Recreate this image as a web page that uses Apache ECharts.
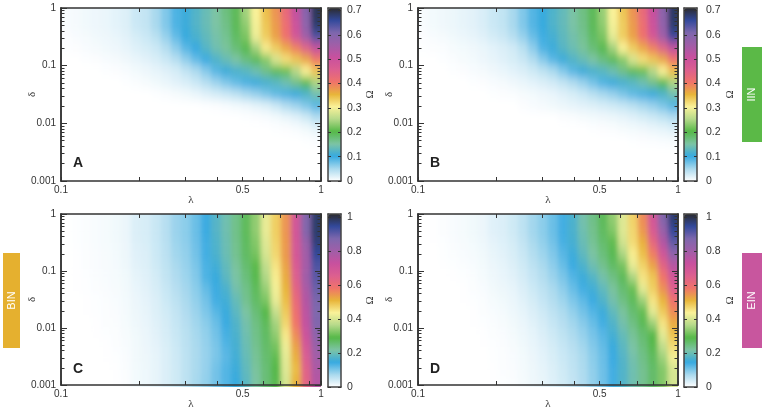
<!DOCTYPE html>
<html>
<head>
<meta charset="utf-8">
<style>
html, body { margin: 0; padding: 0; background: #fff; }
#page { position: relative; width: 762px; height: 411px; overflow: hidden; }
#axes { position: absolute; left: 0; top: 0; width: 762px; height: 411px; }
</style>
<script src="https://cdn.jsdelivr.net/npm/echarts@6/dist/echarts.min.js"></script>
</head>
<body>
<svg width="0" height="0" style="position:absolute"><filter id="soften" x="0" y="0" width="100%" height="100%"><feGaussianBlur stdDeviation="2.5 5"/></filter></svg>
<div id="page"><div id="axes"></div></div>
<script>
// cell centres of the heat tables
var lambdaCells = [.1045,.1142,.1248,.1363,.1489,.1627,.1778,.1942,.2122,.2319,.2534,.2768,.3024,.3304,.3610,.3945,.4310,.4709,.5145,.5622,.6142,.6711,.7332,.8011,.8753,.9563];
var deltaCells = [.794,.501,.316,.2,.126,.0794,.0501,.0316,.02,.0126,.00794,.00501,.00316,.002,.00126];

var lambdaTicks = [0.1,0.2,0.3,0.4,0.5,0.6,0.7,0.8,0.9,1];
var lambdaLabels = [0.1,0.5,1];
var deltaMajor = [0.001,0.01,0.1,1];
var deltaMinor = [0.002,0.003,0.004,0.005,0.006,0.007,0.008,0.009,0.02,0.03,0.04,0.05,0.06,0.07,0.08,0.09,0.2,0.3,0.4,0.5,0.6,0.7,0.8,0.9];
var omegaTicksTop = [0,0.1,0.2,0.3,0.4,0.5,0.6,0.7];
var omegaTicksBottom = [0,0.2,0.4,0.6,0.8,1];

// rows run from delta = 1 down to delta = 0.001
var omegaA = [
[.004,.006,.008,.01,.012,.016,.02,.03,.035,.05,.068,.09,.105,.12,.135,.15,.17,.19,.24,.30,.34,.375,.42,.505,.585,.68],
[.004,.006,.008,.01,.012,.016,.02,.03,.035,.05,.068,.09,.105,.12,.135,.15,.165,.19,.23,.295,.335,.37,.41,.49,.575,.67],
[.002,.004,.006,.008,.01,.013,.017,.024,.03,.04,.058,.08,.102,.115,.13,.145,.16,.185,.22,.29,.33,.365,.405,.475,.55,.63],
[.001,.002,.004,.006,.008,.01,.014,.019,.024,.03,.043,.062,.085,.10,.122,.14,.155,.175,.195,.24,.305,.33,.36,.39,.44,.505],
[0,0,.001,.002,.004,.006,.009,.013,.017,.022,.03,.042,.06,.08,.098,.118,.135,.15,.17,.19,.225,.275,.315,.335,.36,.395],
[0,0,0,0,.001,.002,.004,.007,.01,.014,.018,.024,.035,.047,.065,.085,.105,.115,.125,.14,.165,.19,.21,.25,.30,.335],
[0,0,0,0,0,0,.001,.003,.005,.008,.012,.017,.022,.03,.042,.055,.068,.08,.092,.103,.113,.125,.14,.165,.195,.245],
[0,0,0,0,0,0,0,0,0,.001,.003,.005,.008,.012,.018,.024,.03,.038,.05,.058,.07,.082,.092,.102,.118,.14],
[0,0,0,0,0,0,0,0,0,0,0,0,0,0,.001,.002,.004,.007,.01,.015,.02,.03,.045,.055,.068,.085],
[0,0,0,0,0,0,0,0,0,0,0,0,0,0,0,0,0,0,.001,.002,.004,.007,.012,.018,.028,.045],
[0,0,0,0,0,0,0,0,0,0,0,0,0,0,0,0,0,0,0,0,0,.001,.002,.004,.008,.015],
[0,0,0,0,0,0,0,0,0,0,0,0,0,0,0,0,0,0,0,0,0,0,0,0,.001,.003],
[0,0,0,0,0,0,0,0,0,0,0,0,0,0,0,0,0,0,0,0,0,0,0,0,0,0],
[0,0,0,0,0,0,0,0,0,0,0,0,0,0,0,0,0,0,0,0,0,0,0,0,0,0],
[0,0,0,0,0,0,0,0,0,0,0,0,0,0,0,0,0,0,0,0,0,0,0,0,0,0]
];
var omegaB = [
[.004,.007,.009,.011,.014,.017,.022,.03,.036,.05,.068,.088,.102,.118,.132,.148,.168,.19,.235,.30,.335,.375,.42,.50,.58,.675],
[.004,.007,.009,.011,.014,.017,.022,.03,.036,.05,.068,.088,.102,.118,.132,.148,.165,.19,.23,.295,.33,.37,.41,.49,.57,.67],
[.002,.004,.006,.008,.011,.014,.018,.025,.031,.042,.058,.078,.095,.112,.128,.143,.16,.185,.22,.285,.33,.365,.405,.47,.55,.645],
[.001,.002,.003,.005,.007,.009,.012,.016,.021,.027,.04,.062,.09,.105,.123,.138,.155,.175,.195,.24,.30,.33,.36,.39,.44,.51],
[0,0,.001,.003,.005,.007,.01,.014,.018,.023,.031,.045,.065,.085,.105,.12,.135,.15,.17,.19,.225,.275,.315,.335,.36,.40],
[0,0,0,.001,.002,.004,.006,.009,.012,.016,.021,.028,.037,.048,.066,.085,.105,.115,.125,.14,.165,.19,.21,.25,.30,.34],
[0,0,0,0,0,.001,.002,.004,.006,.009,.012,.016,.021,.027,.035,.046,.058,.073,.09,.103,.113,.125,.14,.165,.195,.245],
[0,0,0,0,0,0,0,.001,.002,.003,.005,.007,.01,.013,.018,.023,.03,.04,.05,.058,.07,.082,.092,.102,.118,.14],
[0,0,0,0,0,0,0,0,0,0,.002,.004,.006,.008,.011,.014,.017,.02,.024,.028,.033,.04,.05,.058,.07,.088],
[0,0,0,0,0,0,0,0,0,0,0,0,0,0,.002,.003,.005,.007,.009,.011,.014,.018,.023,.029,.036,.045],
[0,0,0,0,0,0,0,0,0,0,0,0,0,0,0,0,0,.001,.002,.003,.005,.007,.009,.012,.015,.019],
[0,0,0,0,0,0,0,0,0,0,0,0,0,0,0,0,0,0,0,0,0,.001,.002,.003,.004,.005],
[0,0,0,0,0,0,0,0,0,0,0,0,0,0,0,0,0,0,0,0,0,0,0,0,0,0],
[0,0,0,0,0,0,0,0,0,0,0,0,0,0,0,0,0,0,0,0,0,0,0,0,0,0],
[0,0,0,0,0,0,0,0,0,0,0,0,0,0,0,0,0,0,0,0,0,0,0,0,0,0]
];
var omegaC = [
[0,.002,.004,.006,.008,.012,.017,.03,.033,.045,.06,.08,.09,.11,.14,.173,.20,.235,.27,.33,.41,.47,.535,.68,.846,.96],
[0,.002,.004,.006,.008,.012,.017,.03,.033,.045,.06,.08,.09,.11,.14,.173,.20,.235,.27,.33,.41,.47,.535,.68,.846,.96],
[0,.002,.004,.006,.008,.011,.016,.028,.032,.044,.058,.078,.088,.108,.135,.168,.197,.232,.267,.32,.40,.465,.53,.675,.80,.95],
[0,.001,.003,.005,.007,.01,.015,.026,.03,.042,.056,.075,.085,.105,.135,.165,.195,.23,.265,.31,.39,.46,.53,.67,.78,.93],
[0,.001,.003,.005,.007,.009,.014,.024,.028,.04,.053,.07,.082,.10,.13,.155,.187,.22,.255,.29,.37,.445,.52,.655,.775,.90],
[0,.001,.002,.004,.006,.008,.012,.021,.026,.036,.05,.065,.078,.095,.128,.146,.18,.213,.246,.28,.354,.435,.51,.64,.785,.89],
[0,.001,.002,.003,.005,.007,.011,.018,.024,.033,.046,.06,.074,.09,.115,.138,.165,.205,.235,.27,.335,.42,.50,.62,.765,.875],
[0,0,.001,.002,.004,.006,.01,.016,.022,.03,.042,.055,.07,.085,.105,.135,.155,.19,.23,.263,.315,.41,.49,.60,.75,.86],
[0,0,.001,.002,.003,.005,.009,.015,.02,.028,.038,.05,.065,.08,.098,.122,.147,.18,.215,.25,.285,.375,.475,.585,.735,.855],
[0,0,0,.001,.003,.004,.008,.013,.018,.026,.035,.047,.06,.075,.09,.11,.14,.17,.205,.24,.27,.345,.46,.57,.725,.85],
[0,0,0,.001,.002,.003,.007,.012,.017,.024,.033,.045,.057,.072,.085,.105,.132,.165,.20,.235,.265,.33,.44,.545,.70,.825],
[0,0,0,0,.001,.003,.006,.011,.016,.022,.031,.042,.056,.07,.083,.10,.125,.16,.195,.23,.26,.31,.415,.52,.67,.80],
[0,0,0,0,.001,.002,.005,.011,.015,.021,.03,.041,.055,.07,.082,.10,.12,.155,.19,.225,.255,.295,.405,.505,.65,.78],
[0,0,0,0,0,.001,.004,.01,.014,.02,.03,.04,.055,.07,.083,.105,.125,.15,.185,.22,.25,.285,.40,.49,.63,.76],
[0,0,0,0,0,.001,.003,.01,.014,.02,.03,.04,.055,.072,.085,.105,.125,.145,.18,.215,.25,.28,.39,.50,.62,.75]
];
var omegaD = [
[0,.001,.003,.006,.008,.012,.016,.026,.03,.04,.055,.075,.09,.11,.135,.165,.205,.237,.272,.33,.40,.466,.545,.68,.846,.955],
[0,.001,.003,.006,.008,.012,.016,.026,.03,.04,.055,.075,.09,.11,.135,.165,.20,.233,.266,.318,.40,.46,.532,.656,.80,.93],
[0,.001,.002,.005,.007,.01,.014,.022,.027,.036,.05,.07,.085,.105,.132,.16,.194,.226,.257,.293,.385,.455,.505,.61,.75,.885],
[0,0,.002,.004,.006,.008,.012,.019,.024,.032,.045,.062,.078,.097,.122,.15,.183,.215,.247,.278,.35,.435,.488,.56,.684,.825],
[0,0,.001,.002,.004,.006,.01,.016,.021,.028,.04,.055,.07,.088,.112,.14,.167,.199,.231,.263,.31,.41,.465,.52,.62,.745],
[0,0,0,.001,.002,.004,.008,.013,.018,.024,.035,.048,.062,.08,.10,.125,.15,.174,.207,.24,.272,.35,.445,.48,.57,.685],
[0,0,0,0,.001,.003,.006,.011,.015,.02,.03,.042,.055,.07,.088,.112,.135,.155,.185,.22,.255,.30,.405,.47,.54,.64],
[0,0,0,0,.001,.002,.004,.008,.012,.017,.025,.036,.048,.062,.078,.098,.118,.14,.17,.205,.24,.27,.34,.445,.50,.58],
[0,0,0,0,0,.001,.003,.006,.009,.014,.021,.03,.041,.054,.068,.085,.105,.125,.15,.186,.22,.255,.296,.405,.475,.545],
[0,0,0,0,0,.001,.002,.004,.007,.011,.017,.025,.035,.047,.06,.075,.092,.112,.135,.17,.205,.24,.275,.34,.445,.51],
[0,0,0,0,0,0,.001,.003,.005,.009,.014,.021,.03,.041,.053,.067,.083,.102,.122,.158,.19,.225,.255,.286,.405,.485],
[0,0,0,0,0,0,.001,.002,.004,.007,.012,.018,.026,.036,.047,.06,.075,.095,.115,.147,.18,.213,.245,.28,.37,.456],
[0,0,0,0,0,0,0,.002,.003,.006,.01,.016,.023,.032,.043,.055,.07,.09,.11,.14,.173,.205,.237,.268,.34,.42],
[0,0,0,0,0,0,0,.001,.003,.005,.009,.014,.021,.029,.04,.052,.067,.087,.108,.135,.17,.20,.23,.26,.32,.39],
[0,0,0,0,0,0,0,.001,.002,.004,.008,.013,.019,.027,.038,.05,.065,.085,.107,.135,.17,.20,.23,.26,.32,.39]
];

var omegaColors = ['#ffffff','#a9d9ee','#36a9e0','#7dc4a4','#55b848','#b5d98a','#faf29a','#e8b53a','#f0736a','#dc5f8f','#c8509e','#a05ea8','#7e67ad','#32499c','#2b2b2e'];

var panels = [
  { letter: 'A', rows: omegaA, maxVal: 0.7, axisMax: 0.71, ticks: omegaTicksTop, left: 61, top: 8, barLeft: 328, barMargin: 6, barNameGap: 24 },
  { letter: 'B', rows: omegaB, maxVal: 0.7, axisMax: 0.71, ticks: omegaTicksTop, left: 418, top: 8, barLeft: 684, barMargin: 9, barNameGap: 28 },
  { letter: 'C', rows: omegaC, maxVal: 1, axisMax: 1.02, ticks: omegaTicksBottom, left: 61, top: 214, barLeft: 328, barMargin: 6, barNameGap: 24 },
  { letter: 'D', rows: omegaD, maxVal: 1, axisMax: 1.02, ticks: omegaTicksBottom, left: 418, top: 214, barLeft: 684, barMargin: 9, barNameGap: 28 }
];
var plotW = 260, plotH = 173, barW = 13;
var inkColor = '#333', fontName = '"Liberation Sans", Arial, sans-serif';

// smooth colour field, one blurred heatmap per panel, cut off at the plot edge
function drawHeat(p) {
  var nx = lambdaCells.length, ny = deltaCells.length;
  var cellW = plotW / nx, cellH = plotH / ny;
  var clip = document.createElement('div');
  clip.style.cssText = 'position:absolute;overflow:hidden;left:' + p.left + 'px;top:' + p.top + 'px;width:' + plotW + 'px;height:' + plotH + 'px';
  var inner = document.createElement('div');
  inner.style.cssText = 'position:absolute;filter:url(#soften);left:' + (-2 * cellW) + 'px;top:' + (-2 * cellH) + 'px;width:' + (plotW + 4 * cellW) + 'px;height:' + (plotH + 4 * cellH) + 'px';
  clip.appendChild(inner);
  document.getElementById('page').insertBefore(clip, document.getElementById('axes'));

  // repeated cells round the table so the blur has something to pull from
  var cells = [], xCats = [], yCats = [];
  for (var j = -2; j <= ny + 1; j++) {
    yCats.push(deltaCells[Math.min(ny - 1, Math.max(0, j))] + '_' + j);
    for (var i = -2; i <= nx + 1; i++) {
      var row = p.rows[Math.min(ny - 1, Math.max(0, j))];
      cells.push([i + 2, j + 2, row[Math.min(nx - 1, Math.max(0, i))]]);
    }
  }
  for (var k = -2; k <= nx + 1; k++) {
    xCats.push(lambdaCells[Math.min(nx - 1, Math.max(0, k))] + '_' + k);
  }
  var chart = echarts.init(inner);
  chart.setOption({
    animation: false,
    grid: { left: 0, right: 0, top: 0, bottom: 0 },
    xAxis: { type: 'category', show: false, data: xCats },
    yAxis: { type: 'category', show: false, inverse: true, data: yCats },
    visualMap: { show: false, min: 0, max: p.maxVal, inRange: { color: omegaColors } },
    series: [{ type: 'heatmap', data: cells, progressive: 0 }]
  });
}
panels.forEach(drawHeat);

var grids = [], xAxes = [], yAxes = [], visualMaps = [], graphics = [];

function logAxis(gridIndex, range, position, opt) {
  var ax = {
    type: 'log', logBase: 10, gridIndex: gridIndex, position: position, min: range[0], max: range[1], z: 6,
    splitLine: { show: false },
    axisLine: { show: true, onZero: false, lineStyle: { color: inkColor, width: 1.5 } },
    axisTick: { show: true, inside: true, length: opt.len, customValues: opt.values, lineStyle: { color: inkColor, width: 1 } },
    axisLabel: { show: false }
  };
  if (opt.labels) {
    ax.axisLabel = {
      show: true, customValues: opt.labels, margin: opt.margin, color: inkColor, fontFamily: fontName, fontSize: 10,
      formatter: function (v) { return String(v); }
    };
  }
  if (opt.name) {
    ax.name = opt.name;
    ax.nameLocation = 'middle';
    ax.nameGap = opt.nameGap;
    ax.nameMoveOverlap = false;
    ax.nameTextStyle = { color: inkColor, fontFamily: '"Liberation Serif", serif', fontSize: 11 };
  }
  return ax;
}

panels.forEach(function (p) {
  // plot frame with ticks on all four sides
  var g = grids.length;
  grids.push({ left: p.left, top: p.top, width: plotW, height: plotH });
  var xr = [0.1, 1], yr = [0.001, 1];
  xAxes.push(logAxis(g, xr, 'bottom', { values: lambdaTicks, len: 4, labels: lambdaLabels, margin: 4, name: 'λ', nameGap: 14 }));
  xAxes.push(logAxis(g, xr, 'top', { values: lambdaTicks, len: 4 }));
  yAxes.push(logAxis(g, yr, 'left', { values: deltaMajor, len: 6, labels: deltaMajor, margin: 5, name: 'δ', nameGap: 23 }));
  yAxes.push(logAxis(g, yr, 'left', { values: deltaMinor, len: 3.5 }));
  yAxes.push(logAxis(g, yr, 'right', { values: deltaMajor, len: 6 }));
  yAxes.push(logAxis(g, yr, 'right', { values: deltaMinor, len: 3.5 }));

  // colour bar
  var b = grids.length;
  grids.push({ left: p.barLeft, top: p.top, width: barW, height: plotH });
  var barLine = { show: true, onZero: false, lineStyle: { color: '#444', width: 1.5 } };
  xAxes.push({ type: 'value', gridIndex: b, position: 'bottom', min: 0, max: 1, z: 6, axisLine: barLine, axisTick: { show: false }, axisLabel: { show: false }, splitLine: { show: false } });
  xAxes.push({ type: 'value', gridIndex: b, position: 'top', min: 0, max: 1, z: 6, axisLine: barLine, axisTick: { show: false }, axisLabel: { show: false }, splitLine: { show: false } });
  var barTick = { show: true, inside: true, length: 3, customValues: p.ticks, lineStyle: { color: '#333', width: 1 } };
  yAxes.push({ type: 'value', gridIndex: b, position: 'left', min: 0, max: p.axisMax, z: 6, axisLine: barLine, axisTick: barTick, axisLabel: { show: false }, splitLine: { show: false } });
  yAxes.push({
    type: 'value', gridIndex: b, position: 'right', min: 0, max: p.axisMax, z: 6, axisLine: barLine, axisTick: barTick, splitLine: { show: false },
    axisLabel: { show: true, customValues: p.ticks, margin: p.barMargin, color: inkColor, fontFamily: fontName, fontSize: 10.5, formatter: function (v) { return String(v); } },
    name: 'Ω', nameLocation: 'middle', nameGap: p.barNameGap, nameRotate: 90, nameMoveOverlap: false,
    nameTextStyle: { color: inkColor, fontFamily: '"Liberation Serif", serif', fontSize: 11 }
  });
  visualMaps.push({
    type: 'continuous', seriesIndex: [], min: 0, max: p.axisMax, calculable: false, left: p.barLeft, top: p.top,
    itemWidth: barW, itemHeight: plotH, padding: 0, text: null, inRange: { color: omegaColors }
  });

  graphics.push({
    type: 'text', left: p.left + 12, top: p.top + 148,
    style: { text: p.letter, fill: '#222', font: 'bold 14px ' + fontName }
  });
});

// group tags at the page edge
[
  { name: 'IIN', x: 742, y: 47, w: 20, h: 95, color: '#5bb947' },
  { name: 'BIN', x: 3, y: 253, w: 17, h: 95, color: '#e5b02f' },
  { name: 'EIN', x: 742, y: 253, w: 20, h: 95, color: '#c8569e' }
].forEach(function (t) {
  graphics.push({ type: 'rect', shape: { x: t.x, y: t.y, width: t.w, height: t.h }, style: { fill: t.color } });
  graphics.push({
    type: 'text', x: t.x + t.w / 2, y: t.y + t.h / 2, rotation: Math.PI / 2,
    style: { text: t.name, fill: '#fff', font: '11px ' + fontName, align: 'center', verticalAlign: 'middle' }
  });
});

var axesChart = echarts.init(document.getElementById('axes'));
axesChart.setOption({
  animation: false,
  backgroundColor: 'transparent',
  grid: grids,
  xAxis: xAxes,
  yAxis: yAxes,
  visualMap: visualMaps,
  graphic: graphics,
  series: []
});
</script>
</body>
</html>
